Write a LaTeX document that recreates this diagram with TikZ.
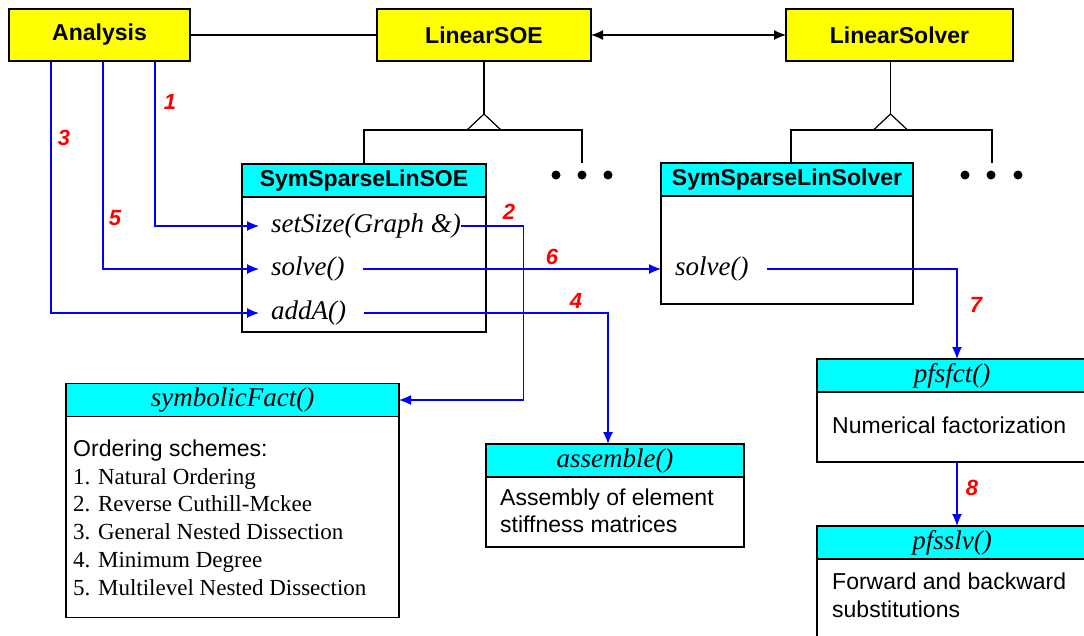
\documentclass[tikz,border=0pt]{standalone}
\usepackage{fontspec}
\setmainfont{Liberation Serif}
\setsansfont{Liberation Sans}
\usetikzlibrary{arrows.meta,positioning}
\definecolor{boxyellow}{RGB}{255,255,0}
\definecolor{boxcyan}{RGB}{0,255,255}
\definecolor{callblue}{RGB}{0,0,255}
\definecolor{steptext}{RGB}{255,0,0}
\begin{document}
\begin{tikzpicture}[
    x=1pt, y=-1pt,
    base/.style={draw, line width=2pt, fill=boxyellow, inner sep=0pt, outer sep=0pt, minimum height=52pt, font=\sffamily\bfseries\fontsize{23}{27}\selectfont},
    head/.style={draw, line width=1.5pt, fill=boxcyan, inner sep=0pt, outer sep=0pt, minimum height=33pt},
    bhead/.style={head, font=\sffamily\bfseries\fontsize{23}{27}\selectfont},
    ihead/.style={head, font=\itshape\fontsize{27}{30}\selectfont},
    body/.style={draw, line width=1.5pt, fill=white, inner sep=0pt, outer sep=0pt},
    method/.style={anchor=west, inner sep=0pt, font=\itshape\fontsize{27}{30}\selectfont},
    note/.style={anchor=base west, inner sep=0pt, font=\sffamily\fontsize{23}{27}\selectfont},
    item/.style={anchor=base west, inner sep=0pt, font=\fontsize{23}{27}\selectfont},
    num/.style={text=steptext, font=\sffamily\bfseries\itshape\fontsize{22}{26}\selectfont},
    flow/.style={-{Latex[length=12pt,width=10pt]}, draw=callblue, line width=1.2pt},
    conn/.style={draw=black, line width=1.2pt}
]
\useasboundingbox (0,0) rectangle (1084,635);
\clip (0,0) rectangle (1084,635);

% Top level classes
\node[base, minimum width=181pt] (analysis) at (99.5,35) {Analysis};
\node[base, minimum width=214pt] (soe) at (484,35) {LinearSOE};
\node[base, minimum width=227pt] (solver) at (899.5,35) {LinearSolver};
\draw[conn] (analysis.east) -- (soe.west);
\draw[conn, {Latex[length=12pt,width=10pt]}-{Latex[length=12pt,width=10pt]}] (soe.east) -- (solver.west);

% Subclasses
\node[bhead, minimum width=244pt] (soeH) at (364,180.5) {SymSparseLinSOE};
\node[body, minimum width=244pt, minimum height=135pt, below=0pt of soeH] (soeB) {};
\node[bhead, minimum width=252pt] (slvH) at (787,179.5) {SymSparseLinSolver};
\node[body, minimum width=252pt, minimum height=108pt, below=0pt of slvH] (slvB) {};

% Inheritance, SOE side
\draw[conn] (soe.south) -- ++(0,53) coordinate (soeTip);
\draw[conn] (soeTip) -- ++(-17,16) -- ++(34,0) -- cycle;
\coordinate (soeMore) at (582,163);
\draw[conn] (soeH.north) -- ++(0,-34) -| (soeMore);
\fill (556,175) circle (4.5pt) (582,175) circle (4.5pt) (608,175) circle (4.5pt);

% Inheritance, solver side
\draw[conn] ([xshift=-9pt]solver.south) -- ++(0,53) coordinate (slvTip);
\draw[conn] (slvTip) -- ++(-17,16) -- ++(34,0) -- cycle;
\coordinate (slvMore) at (992,163);
\draw[conn] ([xshift=4pt]slvH.north) -- ++(0,-33) -| (slvMore);
\fill (965,175) circle (4.5pt) (991,175) circle (4.5pt) (1018,175) circle (4.5pt);

% Methods
\node[method] (mSet) at (271,226) {setSize(Graph \&)};
\node[method] (mSolve) at (271,269) {solve()};
\node[method] (mAdd) at (271,313) {addA()};
\node[method] (mSolveB) at (675,269) {solve()};

% Called routines
\node[ihead, minimum width=333pt] (symH) at (232.5,400) {symbolicFact()};
\node[body, minimum width=333pt, minimum height=201pt, below=0pt of symH] (symB) {};
\node[note] (ord0) at (73,456) {Ordering schemes:};
\node[item] (ord1) at (73,484) {1. Natural Ordering};
\node[item] (ord2) at (73,511) {2. Reverse Cuthill-Mckee};
\node[item] (ord3) at (73,539) {3. General Nested Dissection};
\node[item] (ord4) at (73,567) {4. Minimum Degree};
\node[item] (ord5) at (73,595) {5. Multilevel Nested Dissection};

\node[ihead, minimum width=258pt] (asmH) at (615,460.5) {assemble()};
\node[body, minimum width=258pt, minimum height=70pt, below=0pt of asmH] (asmB) {};
\node[note] (asm1) at (500,505) {Assembly of element};
\node[note] (asm2) at (500,532) {stiffness matrices};

\node[ihead, minimum width=270pt] (fctH) at (952,375.5) {pfsfct()};
\node[body, minimum width=270pt, minimum height=70pt, below=0pt of fctH] (fctB) {};
\node[note] (fct1) at (832,433) {Numerical factorization};

\node[ihead, minimum width=270pt] (sslvH) at (952,542.5) {pfsslv()};
\node[body, minimum width=270pt, minimum height=102pt, below=0pt of sslvH] (sslvB) {};
\node[note] (sslv1) at (832,589) {Forward and backward};
\node[note] (sslv2) at (832,617) {substitutions};

% Calls
\draw[flow] ([xshift=146pt]analysis.south west) |- ([xshift=-12pt]mSet.west);
\draw[flow] (mSet.east) -- ++(62,0) |- (symH.east);
\draw[flow] ([xshift=42pt]analysis.south west) |- ([xshift=-12pt]mAdd.west);
\draw[flow] ([xshift=18pt]mAdd.east) -| ([xshift=-7pt]asmH.north);
\draw[flow] ([xshift=94pt]analysis.south west) |- ([xshift=-12pt]mSolve.west);
\draw[flow] ([xshift=18pt]mSolve.east) -- (mSolveB -| slvB.west);
\draw[flow] ([xshift=18pt]mSolveB.east) -| ([xshift=5pt]fctH.north);
\draw[flow] ([xshift=5pt]fctB.south) -- ([xshift=5pt]sslvH.north);

% Step numbers
\node[num] (n1) at (170,102) {1};
\node[num] (n2) at (509,212) {2};
\node[num] (n3) at (64,138) {3};
\node[num] (n4) at (576,301) {4};
\node[num] (n5) at (115,218) {5};
\node[num] (n6) at (552,257) {6};
\node[num] (n7) at (976,305) {7};
\node[num] (n8) at (972,488) {8};

\end{tikzpicture}
\end{document}
